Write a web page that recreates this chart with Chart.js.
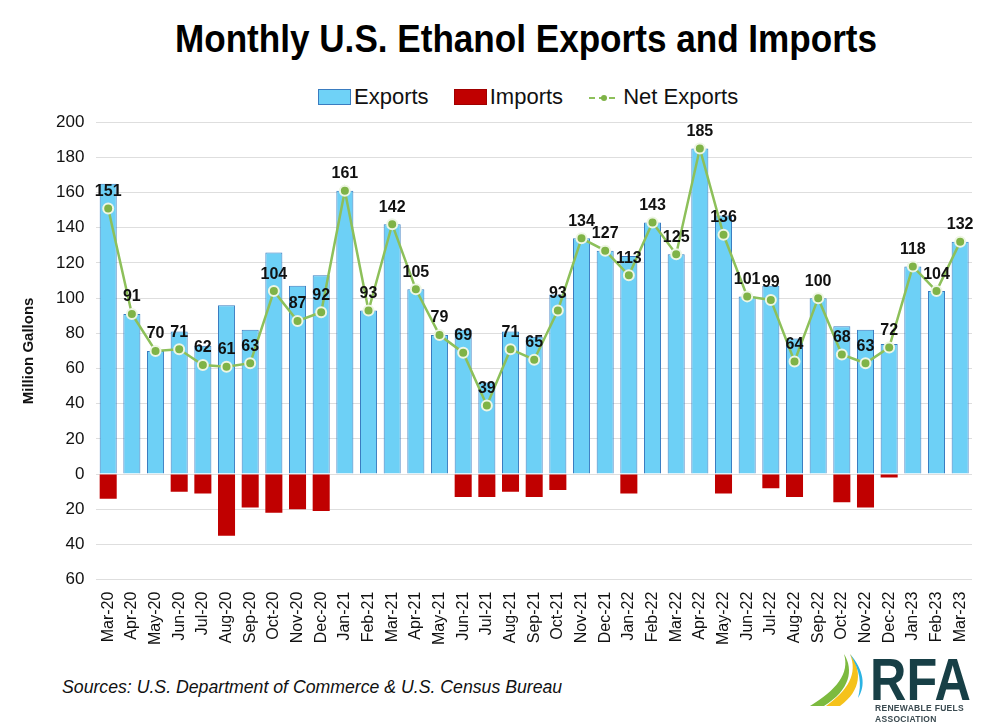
<!DOCTYPE html>
<html>
<head>
<meta charset="utf-8">
<script src="https://cdn.jsdelivr.net/npm/chart.js@4.4.1/dist/chart.umd.min.js"></script>
<style>
    body { margin: 0; background: #fff; font-family: "Liberation Sans", Arial, sans-serif; }
    #page { position: relative; width: 1000px; height: 725px; overflow: hidden; }
    #title { position: absolute; left: 0; top: 18px; width: 1052px; text-align: center; font-weight: bold; font-size: 38px; color: #000; white-space: nowrap; }
    #title span { display: inline-block; transform-origin: center; }
    #legend { position: absolute; top: 83px; left: 318px; font-size: 22px; color: #111; white-space: nowrap; }
    .item { display: inline-block; vertical-align: middle; margin-right: 19px; }
    .box { display: inline-block; width: 31px; height: 14px; vertical-align: -1px; margin-right: 3px; }
    #chartBox { position: absolute; left: 0; top: 100px; width: 1000px; height: 549px; }
    #source { position: absolute; left: 62px; top: 677px; font-style: italic; font-size: 18px; color: #111; white-space: nowrap; transform-origin: left center; }
    #logo { position: absolute; left: 808px; top: 650px; width: 180px; height: 75px; }
</style>
</head>
<body>
<div id="page">
    <div id="title"><span id="titleText">Monthly U.S. Ethanol Exports and Imports</span></div>
    <div id="legend">
        <span class="item"><span class="box" style="background:#6fd2f7;border:1px solid #3a7cc0"></span>Exports</span>
        <span class="item"><span class="box" style="background:#c00000;border:1px solid #a00000"></span>Imports</span>
        <span class="item"><svg width="32" height="14" style="vertical-align:-1px;margin-right:3px"><line x1="1" y1="7" x2="31" y2="7" stroke="#8dc05a" stroke-width="2" stroke-dasharray="6,4"/><circle cx="16" cy="7" r="3" fill="#7fb347"/></svg>Net Exports</span>
    </div>
    <div id="chartBox"><canvas id="chartEthanol"></canvas></div>
    <div id="source">Sources: U.S. Department of Commerce &amp; U.S. Census Bureau</div>
    <div id="logo">
        <svg width="64" height="56" style="position:absolute;left:0;top:2px">
            <path d="M2 54 C28 38 42 22 36 2 C46 18 42 38 16 54 Z" fill="#7cba3f"/>
            <path d="M18 54 C40 38 50 22 42 2 C54 18 54 38 32 54 Z" fill="#f5c21b"/>
            <path d="M42 2 C56 18 58 34 50 46 C54 32 52 18 42 2 Z" fill="#2bb3e3"/>
        </svg>
        <div id="rfa" style="position:absolute;left:62px;top:2px;font-weight:bold;font-size:60px;color:#173f46;line-height:56px;transform-origin:left top;transform:scaleX(0.84)">RFA</div>
        <div style="position:absolute;left:67px;top:53px;font-weight:bold;font-size:8.5px;color:#3a4a50;line-height:11px;letter-spacing:0.3px">RENEWABLE FUELS<br>ASSOCIATION</div>
    </div>
</div>
<script>
// Data (Million Gallons)
const months = ["Mar-20","Apr-20","May-20","Jun-20","Jul-20","Aug-20","Sep-20","Oct-20","Nov-20","Dec-20",
    "Jan-21","Feb-21","Mar-21","Apr-21","May-21","Jun-21","Jul-21","Aug-21","Sep-21","Oct-21","Nov-21","Dec-21",
    "Jan-22","Feb-22","Mar-22","Apr-22","May-22","Jun-22","Jul-22","Aug-22","Sep-22","Oct-22","Nov-22","Dec-22",
    "Jan-23","Feb-23","Mar-23"];
const exportsData = [165, 91, 70, 81, 73, 96, 82, 126, 107, 113,
    161, 93, 142, 105, 79, 82, 52, 81, 78, 102, 134, 127,
    124, 143, 125, 185, 147, 101, 107, 77, 100, 84, 82, 74,
    118, 104, 132];
const importsData = [14, 0, 0, 10, 11, 35, 19, 22, 20, 21,
    0, 0, 0, 0, 0, 13, 13, 10, 13, 9, 0, 0,
    11, 0, 0, 0, 11, 0, 8, 13, 0, 16, 19, 2,
    0, 0, 0];
const netExports = [151, 91, 70, 71, 62, 61, 63, 104, 87, 92,
    161, 93, 142, 105, 79, 69, 39, 71, 65, 93, 134, 127,
    113, 143, 125, 185, 136, 101, 99, 64, 100, 68, 63, 72,
    118, 104, 132];

// fit title and source widths like the original
const t = document.getElementById("titleText");
t.style.transform = "scaleX(" + (702 / t.offsetWidth) + ")";
const src = document.getElementById("source");
src.style.transform = "scaleX(" + (500 / src.offsetWidth) + ")";

// labels over the net exports points
const netLabels = {
    id: "netLabels",
    afterDatasetsDraw(chart) {
        const ctx = chart.ctx;
        const meta = chart.getDatasetMeta(2);
        ctx.save();
        ctx.font = "bold 16px 'Liberation Sans', Arial";
        ctx.fillStyle = "#111";
        ctx.textAlign = "center";
        ctx.textBaseline = "bottom";
        meta.data.forEach((pt, i) => {
            ctx.fillText(netExports[i], pt.x, pt.y - 9);
        });
        ctx.restore();
    }
};

const ctxEth = document.getElementById("chartEthanol").getContext("2d");
let chartEthanol = new Chart(ctxEth, {
    type: "bar",
    data: {
        labels: months,
        datasets: [
            { label: "Exports", data: exportsData, backgroundColor: "#6dd0f6", borderColor: "#3a7cc0",
              borderWidth: 1, grouped: false, barPercentage: 0.72, categoryPercentage: 1, order: 2 },
            { label: "Imports", data: importsData.map(v => -v), backgroundColor: "#c00000", borderColor: "#b00000",
              borderWidth: 0, grouped: false, barPercentage: 0.72, categoryPercentage: 1, order: 2 },
            { type: "line", label: "Net Exports", data: netExports, borderColor: "#8dc05a", borderWidth: 2.5,
              pointRadius: 5, pointBackgroundColor: "#7fb347", pointBorderColor: "#eef6e4", pointBorderWidth: 2,
              tension: 0, order: 1 }
        ]
    },
    options: {
        responsive: true,
        maintainAspectRatio: false,
        animation: false,
        layout: { padding: { top: 12, right: 28, left: 14, bottom: 0 } },
        plugins: {
            legend: { display: false },
            tooltip: { enabled: false }
        },
        scales: {
            x: {
                grid: { display: false },
                border: { display: false },
                ticks: { color: "#111", font: { size: 16, family: "'Liberation Sans', Arial" },
                    maxRotation: 90, minRotation: 90, autoSkip: false, padding: 4 }
            },
            y: {
                min: -60, max: 200,
                grid: { color: "#dedede", drawTicks: false },
                border: { display: false },
                ticks: { stepSize: 20, color: "#111", padding: 12,
                    font: { size: 17, family: "'Liberation Sans', Arial" },
                    callback: v => Math.abs(v) },
                title: { display: true, text: "Million Gallons", color: "#111",
                    font: { size: 15, weight: "bold", family: "'Liberation Sans', Arial" }, padding: 6 }
            }
        }
    },
    plugins: [netLabels]
});
</script>
</body>
</html>
